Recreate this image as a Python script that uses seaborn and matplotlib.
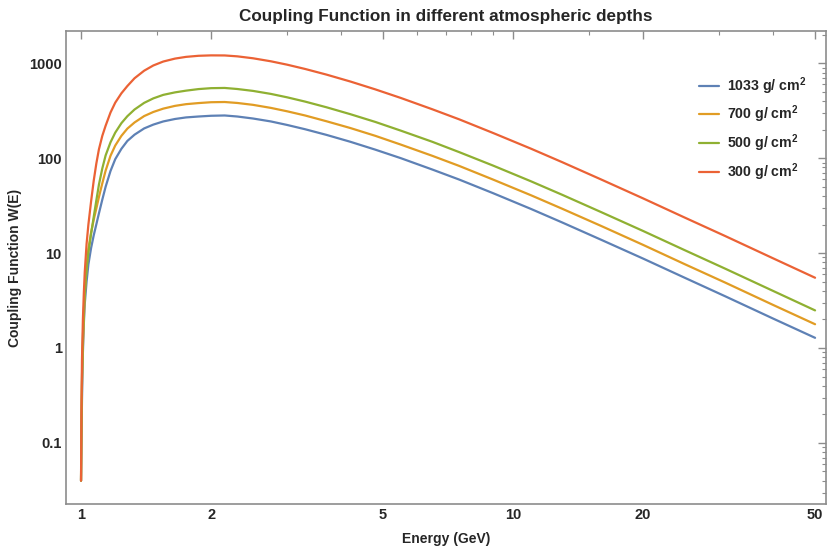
import numpy as np
import pandas as pd
import matplotlib
matplotlib.use("Agg")
import matplotlib.pyplot as plt
import seaborn as sns
from matplotlib.ticker import FixedLocator, FixedFormatter, LogLocator, NullFormatter

# --------------------------
# data
# --------------------------
energy = [1.0, 1.002, 1.005, 1.01, 1.015, 1.02, 1.03, 1.04, 1.055, 1.07, 1.085, 1.1,
          1.12, 1.14, 1.17, 1.2, 1.24, 1.28, 1.33, 1.4, 1.47, 1.55, 1.65, 1.75,
          1.87, 2.0, 2.15, 2.3, 2.5, 2.75, 3.0, 3.3, 3.7, 4.2, 4.8, 5.5,
          6.5, 7.5, 9, 11, 13, 16, 20, 25, 31, 40, 50]

w_1033 = [0.04, 0.09, 0.28, 0.9, 1.8, 2.9, 5.0, 7.6, 11.3, 15.4, 20.1, 26.2,
          36.6, 50, 73.3, 97.7, 125.6, 152, 177, 206, 226, 244, 259, 269,
          275, 280, 282, 275, 262, 244, 224, 202, 176, 149, 123, 100,
          76, 59.6, 42.7, 29.2, 21.0, 13.8, 8.75, 5.48, 3.5, 2.04, 1.28]
w_700 = [0.04, 0.12, 0.4, 1.05, 2.0, 3.6, 7.3, 11.1, 16.5, 22.5, 29.5, 39,
         54.3, 74, 106, 136, 172, 205, 238, 278, 307, 333, 356, 371,
         381, 389, 391, 382, 365, 339, 312, 282, 245, 208, 172, 139,
         106, 83, 59.4, 40.7, 29.3, 19.3, 12.2, 7.62, 4.88, 2.84, 1.78]
w_500 = [0.04, 0.14, 0.48, 1.28, 2.45, 3.8, 6.8, 10.1, 15.9, 24.1, 36, 52.6,
         78, 107, 147, 186, 234, 277, 326, 383, 427, 465, 494, 515,
         535, 547, 550, 536, 512, 476, 438, 395, 344, 291, 241, 195,
         149, 116, 83.4, 57.1, 41.1, 27.0, 17.1, 10.7, 6.84, 3.99, 2.49]
w_300 = [0.04, 0.2, 0.75, 2.0, 3.8, 6.3, 12.5, 20, 35, 58, 88, 124,
         172, 220, 303, 385, 483, 576, 696, 836, 949, 1044, 1121, 1169,
         1200, 1212, 1210, 1184, 1130, 1050, 967, 872, 760, 643, 531, 431,
         328, 257, 184, 126, 90.7, 59.6, 37.7, 23.6, 15.1, 8.8, 5.5]

depths = ["1033 g/ cm$^\\mathbf{2}$", "700 g/ cm$^\\mathbf{2}$",
          "500 g/ cm$^\\mathbf{2}$", "300 g/ cm$^\\mathbf{2}$"]
colors = ["#5E81B5", "#E19C24", "#8FB032", "#EB6235"]

x_major = [1, 2, 5, 10, 20, 50]
x_minor = [1.5, 3, 4, 6, 7, 8, 9, 15, 30, 40]
y_major = [0.1, 1, 10, 100, 1000]
y_labels = ["0.1", "1", "10", "100", "1000"]

df = pd.concat([
    pd.DataFrame({"energy": energy, "W": w, "depth": d})
    for w, d in zip([w_1033, w_700, w_500, w_300], depths)
], ignore_index=True)

# --------------------------
# plot
# --------------------------
sns.set_theme(style="white")
plt.rcParams["font.family"] = ["Liberation Sans", "DejaVu Sans"]
plt.rcParams["mathtext.fontset"] = "custom"
plt.rcParams["mathtext.bf"] = "Liberation Sans:bold"
plt.rcParams["mathtext.rm"] = "Liberation Sans"

fig = plt.figure(figsize=(8.28, 5.53), dpi=100)
ax = fig.add_axes([66 / 828, 1 - 504 / 553, 760 / 828, 473 / 553])

sns.lineplot(data=df, x="energy", y="W", hue="depth", hue_order=depths,
             palette=colors, linewidth=1.6, ax=ax, sort=True)

ax.set_xscale("log")
ax.set_yscale("log")
ax.set_xlim(0.923, 53.0)
ax.set_ylim(0.0227, 2190)

ax.xaxis.set_major_locator(FixedLocator(x_major))
ax.xaxis.set_major_formatter(FixedFormatter([str(v) for v in x_major]))
ax.xaxis.set_minor_locator(FixedLocator(x_minor))
ax.xaxis.set_minor_formatter(NullFormatter())
ax.yaxis.set_major_locator(FixedLocator(y_major))
ax.yaxis.set_major_formatter(FixedFormatter(y_labels))
ax.yaxis.set_minor_locator(LogLocator(base=10, subs=np.arange(2, 10)))
ax.yaxis.set_minor_formatter(NullFormatter())

for s in ax.spines.values():
    s.set_color("#8c8c8c")
    s.set_linewidth(1.2)
ax.tick_params(which="both", direction="in", top=True, right=True,
               color="#8c8c8c", labelsize=10.5, pad=3)
ax.tick_params(which="major", length=6, width=1.0)
ax.tick_params(which="minor", length=3, width=0.8)
for lab in ax.get_xticklabels() + ax.get_yticklabels():
    lab.set_fontweight("bold")

ax.set_xlabel("Energy (GeV)", fontsize=10, fontweight="bold", labelpad=7)
ax.set_ylabel("Coupling Function W(E)", fontsize=10, fontweight="bold", labelpad=5)
ax.set_title("Coupling Function in different atmospheric depths",
             fontsize=12.3, fontweight="bold", pad=7)

leg = ax.legend(loc="upper left", bbox_to_anchor=(0.824, 0.922), frameon=False,
                borderpad=0, fontsize=10.2, handlelength=1.42, labelspacing=0.5,
                handletextpad=0.55)
for t in leg.get_texts():
    t.set_fontweight("bold")

fig.savefig("out.png", dpi=100)
